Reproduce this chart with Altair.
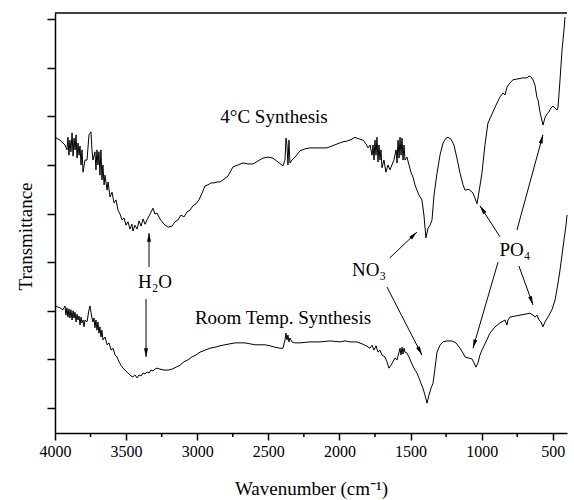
import altair as alt
import pandas as pd

FONT = "Liberation Serif"
W, H = 512, 420

# ---------------- data ----------------
top_wn = [4000,3965,3930,3916,3909,3902,3895,3888,3880,3873,
          3866,3859,3852,3845,3838,3831,3824,3817,3810,3803,
          3789,3775,3761,3747,3740,3733,3719,3712,3705,3698,
          3691,3684,3677,3670,3663,3655,3648,3634,3627,3613,
          3599,3585,3571,3557,3543,3529,3515,3501,3487,3473,
          3459,3452,3438,3423,3409,3395,3381,3367,3353,3339,
          3325,3311,3297,3283,3262,3234,3205,3177,3156,3135,
          3114,3093,3072,3051,3030,3009,2988,2966,2945,2924,
          2903,2882,2861,2840,2819,2784,2748,2713,2678,2643,
          2608,2573,2538,2502,2467,2432,2397,2383,2376,2369,
          2362,2355,2348,2334,2313,2277,2242,2207,2151,2088,
          2052,2017,1982,1947,1912,1891,1877,1856,1834,1813,
          1799,1785,1771,1764,1757,1750,1743,1736,1729,1722,
          1715,1708,1701,1687,1673,1659,1645,1631,1617,1602,
          1595,1588,1581,1574,1567,1560,1553,1546,1539,1525,
          1511,1497,1483,1469,1455,1441,1420,1406,1392,1377,
          1363,1349,1335,1314,1293,1272,1251,1237,1216,1195,
          1174,1152,1131,1117,1096,1082,1061,1047,1033,1019,
          998,977,956,927,899,871,850,836,822,801,
          780,745,709,681,667,653,639,625,611,604,
          590,569,555,541,527,513,499,484,470,463,
          449,435,421,414]
top_t = [65.7,65.1,64.1,63.1,65.7,62.0,65.1,62.7,66.6,61.8,
         65.5,63.1,66.2,61.4,64.5,62.0,63.9,60.0,63.1,58.5,
         61.0,61.0,66.2,66.8,63.1,61.0,62.7,59.0,63.1,60.0,
         62.7,57.9,63.1,56.9,60.0,55.9,57.9,54.8,56.5,53.4,
         54.4,52.2,52.8,50.7,49.9,48.7,49.1,47.6,48.3,46.8,
         47.8,46.4,47.6,46.8,48.5,47.4,48.9,47.8,48.7,49.5,
         50.3,51.1,49.9,50.1,48.9,47.8,47.2,47.4,48.3,48.7,
         49.7,49.3,50.3,50.7,51.6,52.0,52.8,54.2,55.7,55.9,
         56.3,56.3,56.5,56.5,56.9,57.7,59.6,60.0,60.4,60.2,
         60.2,60.8,61.4,61.6,61.4,60.6,59.8,61.0,65.5,64.1,
         60.0,65.1,60.4,61.0,61.6,62.9,63.3,63.5,63.5,63.5,
         63.9,64.3,64.7,64.9,65.3,65.7,65.5,65.3,65.1,64.3,
         63.5,64.1,62.0,64.1,61.0,65.1,62.0,65.7,60.6,64.1,
         61.0,63.1,59.4,61.0,58.5,60.0,59.0,60.0,61.0,63.1,
         60.4,65.1,61.4,65.7,62.0,65.5,61.0,64.1,61.0,61.6,
         60.0,58.5,57.5,55.9,54.8,53.8,52.8,49.7,45.0,47.0,
         47.6,48.7,53.8,58.3,62.0,64.5,65.5,65.7,65.3,64.1,
         61.4,58.3,55.9,54.8,55.0,54.8,54.2,53.2,52.0,54.4,
         58.3,64.1,68.6,70.5,72.3,74.0,74.8,74.4,76.0,76.9,
         77.5,77.7,77.9,77.9,78.3,78.1,77.5,76.4,73.8,73.4,
         70.9,68.2,69.7,70.5,70.9,71.7,72.1,71.7,71.3,71.9,
         77.5,83.6,87.8,90.4]

bot_wn = [4000,3965,3944,3930,3923,3916,3909,3902,3895,3888,
          3880,3873,3866,3859,3852,3845,3838,3831,3824,3817,
          3810,3803,3796,3789,3775,3761,3754,3747,3740,3733,
          3726,3719,3712,3705,3698,3691,3684,3677,3670,3663,
          3648,3634,3620,3606,3592,3578,3564,3550,3536,3522,
          3508,3494,3480,3466,3452,3438,3423,3409,3395,3381,
          3367,3353,3339,3325,3311,3297,3283,3262,3234,3205,
          3177,3149,3121,3093,3065,3037,3009,2980,2945,2910,
          2875,2840,2805,2770,2734,2699,2664,2629,2594,2559,
          2523,2488,2453,2418,2397,2383,2376,2369,2362,2355,
          2348,2334,2313,2277,2207,2137,2066,1996,1961,1926,
          1877,1841,1813,1785,1771,1757,1743,1729,1715,1701,
          1680,1666,1652,1638,1624,1609,1595,1581,1574,1567,
          1560,1553,1546,1539,1525,1511,1497,1483,1469,1455,
          1441,1427,1413,1399,1384,1370,1356,1342,1328,1314,
          1293,1272,1244,1209,1181,1152,1131,1117,1096,1068,
          1054,1040,1026,1012,998,970,942,906,871,836,
          822,815,801,766,731,695,660,639,625,611,
          597,583,569,555,534,506,484,463,449,435,
          421,407,400]
bot_t = [31.0,30.6,30.2,31.0,29.1,30.6,28.7,30.4,28.5,30.2,
         28.1,30.0,28.5,29.7,27.7,29.3,28.1,28.9,27.1,28.7,
         27.5,28.1,26.7,28.1,27.7,30.2,31.0,29.7,28.5,27.7,
         28.5,26.5,28.1,26.0,27.7,25.4,26.7,24.6,26.0,24.0,
         24.6,23.0,23.4,21.9,22.3,20.9,20.5,19.5,18.8,18.2,
         17.8,17.4,17.0,16.6,16.4,16.8,16.2,16.8,16.6,17.2,
         17.0,17.4,17.2,17.8,17.6,18.0,18.2,18.0,17.8,17.8,
         18.0,18.4,18.8,19.5,19.9,20.5,20.9,21.5,21.9,22.3,
         22.5,22.8,23.0,23.2,23.4,23.4,23.4,23.2,23.0,23.0,
         23.0,22.8,22.5,22.3,22.3,24.0,25.4,24.0,25.0,23.6,
         24.4,23.6,23.4,23.4,23.6,23.6,23.8,23.6,23.8,23.6,
         23.6,23.2,22.8,22.3,22.9,21.9,22.8,21.5,21.9,20.9,
         20.5,19.5,18.2,18.8,19.5,20.3,19.9,21.5,22.3,20.9,
         22.5,21.1,22.3,21.5,21.3,20.5,19.5,18.6,17.8,17.2,
         16.2,15.1,14.1,12.7,11.0,12.7,14.1,15.1,18.2,21.5,
         22.9,23.6,23.8,23.8,23.4,22.3,21.3,20.5,20.3,20.1,
         19.3,18.4,19.3,20.9,21.9,23.6,25.4,26.7,27.5,28.1,
         27.1,28.1,28.7,28.9,29.1,29.3,29.5,29.1,28.7,29.1,
         28.1,27.7,26.7,27.7,28.7,30.2,32.2,35.7,38.4,41.5,
         44.6,47.6,49.7]

label_text = ["4°C Synthesis", "Room Temp. Synthesis", "H₂O", "NO₃", "PO₄"]
label_wn = [2460, 2397, 3297, 1792, 766]
label_t = [69.9, 28.5, 35.9, 38.4, 42.5]

arrow_wn1 = [3339, 3360, 1645, 1666, 871, 752, 885, 738]
arrow_t1 = [39.0, 32.4, 40.9, 34.9, 45.2, 46.6, 40.0, 39.2]
arrow_wn2 = [3339, 3360, 1455, 1420, 1012, 569, 1061, 639]
arrow_t2 = [46.0, 20.5, 46.2, 20.9, 51.6, 66.2, 22.3, 31.2]
arrow_angle = [0, 180, 46, 153, 327, 15, 196, 160]

major_ticks = [4000, 3500, 3000, 2500, 2000, 1500, 1000, 500]
minor_ticks = [3750, 3250, 2750, 2250, 1750, 1250, 750]
y_ticks = [10, 20, 30, 40, 50, 60, 70, 80, 90]

# ---------------- tables ----------------
spectra = pd.concat([
    pd.DataFrame({"wn": top_wn, "t": top_t, "series": "4°C Synthesis"}),
    pd.DataFrame({"wn": bot_wn, "t": bot_t, "series": "Room Temp. Synthesis"}),
])
labels = pd.DataFrame({"text": label_text, "wn": label_wn, "t": label_t})
arrows = pd.DataFrame({"wn1": arrow_wn1, "t1": arrow_t1, "wn2": arrow_wn2,
                       "t2": arrow_t2, "angle": arrow_angle})
minor = pd.DataFrame({"wn": minor_ticks})

x_scale = alt.Scale(domain=[4000, 400], nice=False, zero=False)
y_scale = alt.Scale(domain=[4.86, 91.25], nice=False, zero=False)

x_axis = alt.Axis(values=major_ticks, format="d", title="Wavenumber (cm⁻¹)",
                  grid=False, domainColor="black", domainWidth=1.5,
                  tickColor="black", tickWidth=1.5, tickSize=7,
                  labelFont=FONT, labelFontSize=16, labelColor="black",
                  labelPadding=3, labelFlush=False,
                  titleFont=FONT, titleFontSize=19, titleFontWeight="normal",
                  titleColor="black", titleY=55, titleBaseline="middle")
y_axis = alt.Axis(values=y_ticks, labels=False, title="Transmittance",
                  grid=False, domainColor="black", domainWidth=1.5,
                  tickColor="black", tickWidth=1.5, tickSize=8,
                  titleFont=FONT, titleFontSize=19, titleFontWeight="normal",
                  titleColor="black", titleX=-30, titleY=223,
                  titleAngle=270, titleAlign="center", titleBaseline="middle")

lines = alt.Chart(spectra).mark_line(color="black", strokeWidth=1).encode(
    x=alt.X("wn:Q", scale=x_scale, axis=x_axis),
    y=alt.Y("t:Q", scale=y_scale, axis=y_axis),
    detail="series:N",
)

minor_rules = alt.Chart(minor).mark_rule(color="black", strokeWidth=1.5).encode(
    x=alt.X("wn:Q", scale=x_scale, axis=x_axis),
    y=alt.value(H),
    y2=alt.value(H + 4),
)

top_border = alt.Chart(pd.DataFrame({"a": [0]})).mark_rule(
    color="black", strokeWidth=1.5).encode(
    x=alt.value(0), x2=alt.value(W), y=alt.value(0))

arrow_lines = alt.Chart(arrows).mark_rule(color="black", strokeWidth=1).encode(
    x=alt.X("wn1:Q", scale=x_scale, axis=x_axis),
    x2="wn2:Q",
    y=alt.Y("t1:Q", scale=y_scale, axis=y_axis),
    y2="t2:Q",
)

arrow_heads = alt.Chart(arrows).mark_point(
    shape="M0,0L-0.5,2.2L0.5,2.2Z", filled=True, size=64,
    color="black", opacity=1, strokeWidth=0).encode(
    x=alt.X("wn2:Q", scale=x_scale, axis=x_axis),
    y=alt.Y("t2:Q", scale=y_scale, axis=y_axis),
    angle=alt.Angle("angle:Q", scale=None),
)

texts = alt.Chart(labels).mark_text(
    font=FONT, fontSize=19, color="black", align="center", baseline="middle").encode(
    x=alt.X("wn:Q", scale=x_scale, axis=x_axis),
    y=alt.Y("t:Q", scale=y_scale, axis=y_axis),
    text="text:N",
)

chart = alt.layer(lines, minor_rules, top_border, arrow_lines, arrow_heads, texts).properties(
    width=W, height=H,
    padding={"left": 55, "top": 13, "right": 7, "bottom": 67},
    autosize=alt.AutoSizeParams(type="none"),
    background="white",
).configure_view(stroke=None)

chart.save("out.html", embed_options={"renderer": "svg", "actions": False})
